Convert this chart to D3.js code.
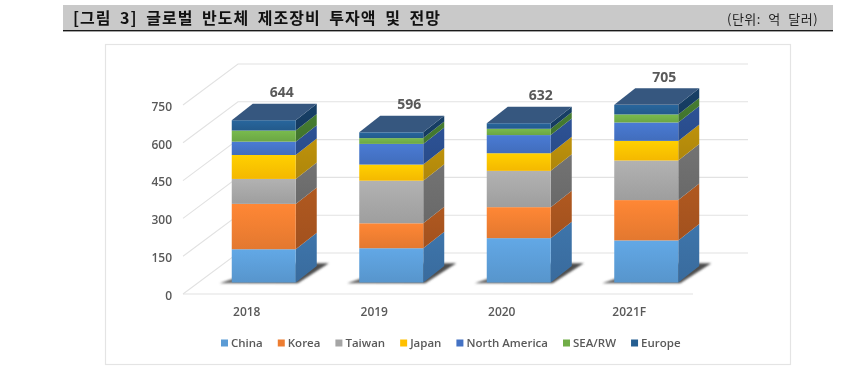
<!DOCTYPE html>
<html>
<head>
<meta charset="utf-8">
<script src="https://cdn.jsdelivr.net/npm/d3@7"></script>
<style>
  html, body { margin: 0; padding: 0; background: #fff; overflow: hidden; }
  text { font-family: "Open Sans", "Noto Sans", sans-serif; }
  .kr { font-family: "Noto Sans CJK KR", sans-serif; }
  svg { filter: blur(0.35px); }
</style>
</head>
<body>
<div id="chart"></div>
<script>
const years = ["2018", "2019", "2020", "2021F"];
const regions = ["China", "Korea", "Taiwan", "Japan", "North America", "SEA/RW", "Europe"];
const china = [132, 136, 176, 167];
const korea = [180, 99, 123, 160];
const taiwan = [99, 169, 144, 157];
const japan = [95, 64, 70, 78];
const northAmerica = [53, 82, 72, 73];
const seaRw = [44, 23, 25, 32];
const europe = [41, 23, 22, 38];
const totals = [644, 596, 632, 705];
const yTicks = [0, 150, 300, 450, 600, 750];

const frontColors = ["#5b9bd5", "#ed7d31", "#a5a5a5", "#ffc000", "#4472c4", "#70ad47", "#255e91"];
const sideColors = ["#3b70a4", "#a9551f", "#6e6e6e", "#b68c0b", "#2b4f90", "#43782f", "#163d63"];

const width = 857, height = 367;
const svg = d3.select("#chart").append("svg")
  .attr("width", width)
  .attr("height", height)
  .style("display", "block");
const defs = svg.append("defs");

// header strip
svg.append("rect").attr("x", 63).attr("y", 5).attr("width", 770).attr("height", 25).attr("fill", "#c9c9c9");
svg.append("rect").attr("x", 63).attr("y", 30).attr("width", 770).attr("height", 1.4).attr("fill", "#1a1a1a");
svg.append("text").attr("class", "kr")
  .attr("x", 73).attr("y", 24)
  .attr("font-size", 16).attr("font-weight", 700).attr("fill", "#111")
  .attr("letter-spacing", 1).attr("word-spacing", 4)
  .text("[그림 3] 글로벌 반도체 제조장비 투자액 및 전망");
svg.append("text").attr("class", "kr")
  .attr("x", 727).attr("y", 24)
  .attr("font-size", 13).attr("fill", "#222")
  .attr("letter-spacing", 0.5).attr("word-spacing", 4)
  .text("(단위: 억 달러)");

// chart frame
svg.append("rect")
  .attr("x", 105.5).attr("y", 44.5).attr("width", 685).attr("height", 320)
  .attr("fill", "#fff").attr("stroke", "#e4e4e4").attr("stroke-width", 1.2);

// fake 3d: front plane scales, plus the offset to the back wall and to the bars
const x = d3.scaleBand().domain(years).range([183, 693]);
const y = d3.scaleLinear().domain([0, 750]).range([294, 105]);
const wall = { dx: 55, dy: -41 };
const inset = { dx: 17, dy: -11.5 };
const depth = { dx: 21, dy: -16.5 };
const barWidth = 64;
const right = 693;

const grid = svg.append("g").attr("fill", "none").attr("stroke", "#e2e2e2").attr("stroke-width", 1.1);
yTicks.forEach(t => {
  const line = d3.line();
  grid.append("path").attr("d", line([
    [x.range()[0], y(t)],
    [x.range()[0] + wall.dx, y(t) + wall.dy],
    [right + wall.dx, y(t) + wall.dy]
  ]));
});
grid.append("path").attr("d", d3.line()([[x.range()[0], y(0)], [right, y(0)]]));

// axes
const yAxis = svg.append("g")
  .attr("transform", "translate(175,1.5)")
  .call(d3.axisLeft(y).tickValues(yTicks).tickSize(0).tickPadding(3));
yAxis.select(".domain").remove();
yAxis.selectAll("text").attr("font-size", 12).attr("font-weight", 600).attr("fill", "#595959")
  .style("font-family", '"Open Sans", sans-serif');

const xAxis = svg.append("g")
  .attr("transform", "translate(0,304)")
  .call(d3.axisBottom(x).tickSize(0).tickPadding(3));
xAxis.select(".domain").remove();
xAxis.selectAll("text").attr("font-size", 12).attr("font-weight", 600).attr("fill", "#595959")
  .style("font-family", '"Open Sans", sans-serif');

// gradients
function shade(c, k) { return k > 0 ? d3.color(c).brighter(k).formatHex() : d3.color(c).darker(-k).formatHex(); }
function addGradient(id, c, top, bottom) {
  const g = defs.append("linearGradient").attr("id", id).attr("x1", 0).attr("x2", 0).attr("y1", 0).attr("y2", 1);
  g.append("stop").attr("offset", 0).attr("stop-color", shade(c, top));
  g.append("stop").attr("offset", 1).attr("stop-color", shade(c, bottom));
}
regions.forEach((r, i) => {
  addGradient("front" + i, frontColors[i], 0.22, -0.12);
  addGradient("side" + i, sideColors[i], 0.12, -0.12);
});
const shadowGrad = defs.append("linearGradient").attr("id", "shadowGrad").attr("x1", 0).attr("x2", 1).attr("y1", 0).attr("y2", 0);
shadowGrad.append("stop").attr("offset", 0).attr("stop-color", "#6a6a6a");
shadowGrad.append("stop").attr("offset", 1).attr("stop-color", "#4a4a4a");
defs.append("filter").attr("id", "soft").append("feGaussianBlur").attr("stdDeviation", 1);

// stacks
const rows = years.map((yr, i) => ({
  year: yr,
  China: china[i], Korea: korea[i], Taiwan: taiwan[i], Japan: japan[i],
  "North America": northAmerica[i], "SEA/RW": seaRw[i], Europe: europe[i]
}));
const series = d3.stack().keys(regions)(rows);

const left = d => x(d.data.year) + (x.bandwidth() - barWidth) / 2 + inset.dx;
const py = v => y(v) + inset.dy;
const poly = pts => pts.map(p => p.join(",")).join(" ");

// floor shadows
svg.append("g").selectAll("polygon")
  .data(rows)
  .join("polygon")
  .attr("points", d => {
    const l = x(d.year) + (x.bandwidth() - barWidth) / 2 + inset.dx;
    const b = py(0) + 0.8;
    return poly([[l - 12, b], [l + barWidth + 2, b], [l + barWidth + depth.dx + 12, b - 20], [l + 45, b - 20]]);
  })
  .attr("fill", "url(#shadowGrad)")
  .attr("filter", "url(#soft)");

// side faces
const layers = svg.append("g").selectAll("g")
  .data(series)
  .join("g");
layers.each(function(s, i) {
  const g = d3.select(this);
  g.selectAll("polygon.side")
    .data(s)
    .join("polygon")
    .attr("class", "side")
    .attr("points", d => {
      const r = left(d) + barWidth;
      return poly([
        [r, py(d[0])], [r + depth.dx, py(d[0]) + depth.dy],
        [r + depth.dx, py(d[1]) + depth.dy], [r, py(d[1])]
      ]);
    })
    .attr("fill", `url(#side${i})`);
  g.selectAll("rect.front")
    .data(s)
    .join("rect")
    .attr("class", "front")
    .attr("x", d => left(d))
    .attr("y", d => py(d[1]))
    .attr("width", barWidth)
    .attr("height", d => py(d[0]) - py(d[1]))
    .attr("fill", `url(#front${i})`);
});

// top caps
svg.append("g").selectAll("polygon")
  .data(series[series.length - 1])
  .join("polygon")
  .attr("points", d => {
    const l = left(d), t = py(d[1]);
    return poly([[l, t], [l + barWidth, t], [l + barWidth + depth.dx, t + depth.dy], [l + depth.dx, t + depth.dy]]);
  })
  .attr("fill", "#36577f");

// totals, the 632 label sits a little further right in the original
const labelNudge = [0, 0, 4, 0];
svg.append("g").selectAll("text")
  .data(totals)
  .join("text")
  .attr("x", (d, i) => x(years[i]) + x.bandwidth() / 2 + inset.dx + 18 + labelNudge[i])
  .attr("y", (d, i) => py(d) - 23)
  .attr("text-anchor", "middle")
  .attr("font-size", 14).attr("font-weight", 700).attr("fill", "#595959")
  .text(d => d);

// legend
const legend = svg.append("g").attr("transform", "translate(221,343)");
let lx = 0;
regions.forEach((r, i) => {
  legend.append("rect").attr("x", lx).attr("y", -3.5).attr("width", 7).attr("height", 7).attr("fill", frontColors[i]);
  const t = legend.append("text")
    .attr("x", lx + 10).attr("y", 4)
    .attr("font-size", 11.5).attr("font-weight", 600).attr("fill", "#595959")
    .text(r);
  lx += 10 + t.node().getComputedTextLength() + 15;
});
</script>
</body>
</html>
